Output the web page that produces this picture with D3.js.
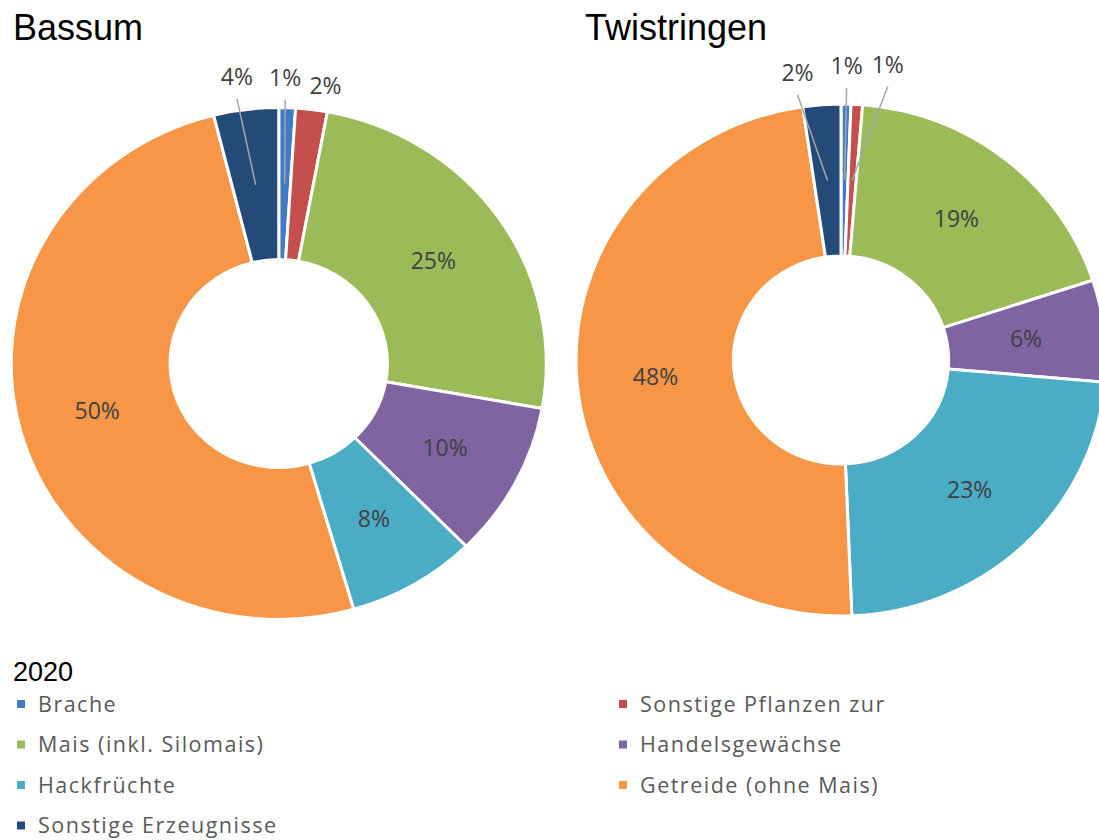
<!DOCTYPE html>
<html>
<head>
<meta charset="utf-8">
<script src="https://cdn.jsdelivr.net/npm/d3@7"></script>
<style>
  html, body { margin: 0; padding: 0; background: #fff; }
  svg { display: block; }
</style>
</head>
<body>
<div id="chart"></div>
<script>
// categories and values (share of area in %, 2020)
var categories = ["Brache", "Sonstige Pflanzen zur", "Mais (inkl. Silomais)", "Handelsgewächse",
                  "Hackfrüchte", "Getreide (ohne Mais)", "Sonstige Erzeugnisse"];
var bassumValues = [1.0, 1.9, 24.8, 9.8, 7.8, 50.4, 3.9];
var twistringenValues = [0.6, 0.7, 18.6, 6.4, 22.9, 48.2, 2.3];
var chartTitles = ["Bassum", "Twistringen"];
var legendTitle = "2020";
var colors = ["#3f7cc8", "#c44f4c", "#9bbb59", "#8064a2", "#4bacc6", "#f79646", "#244a7a"];

var width = 1099, height = 840;

var svg = d3.select("#chart").append("svg")
  .attr("width", width)
  .attr("height", height);

var color = d3.scaleOrdinal().domain(categories).range(colors);

// layout of the two doughnuts (the source picture is slightly stretched horizontally)
var pies = [
  { title: chartTitles[0], values: bassumValues, cx: 278.75, cy: 363.5, sx: 1.045, titleX: 13,
    // nudges for the small outside labels: [dx, dy, leader line]
    nudge: { 0: [-3, 1, true], 1: [10, 7, false], 6: [-5, -2, true] } },
  { title: chartTitles[1], values: twistringenValues, cx: 841, cy: 360, sx: 1.035, titleX: 585,
    nudge: { 0: [0, -7, true], 1: [29, -9, true], 6: [-22, -1, true] } }
];

var outerR = 256, innerR = 104, labelR = 287;

var pie = d3.pie().sort(null).value(function(d) { return d.value; });
var arc = d3.arc().innerRadius(innerR).outerRadius(outerR);

pies.forEach(function(p) {
  var data = categories.map(function(c, i) { return { name: c, value: p.values[i], idx: i }; });
  var arcs = pie(data);

  // title
  svg.append("text")
    .attr("x", p.titleX)
    .attr("y", 40)
    .style("font-family", "'Liberation Sans', Arial, sans-serif")
    .style("font-size", "36px")
    .style("fill", "#000")
    .text(p.title);

  var g = svg.append("g")
    .attr("transform", "translate(" + p.cx + "," + p.cy + ") scale(" + p.sx + ",1)");

  g.selectAll("path.slice")
    .data(arcs)
    .enter().append("path")
    .attr("class", "slice")
    .attr("d", arc)
    .attr("fill", function(d) { return color(d.data.name); })
    .attr("stroke", "#fff")
    .attr("stroke-width", 3)
    .attr("vector-effect", "non-scaling-stroke");

  // label positions (screen coords)
  function toScreen(pt) { return [p.cx + pt[0] * p.sx, p.cy + pt[1]]; }

  arcs.forEach(function(d) {
    var label = Math.round(d.data.value) + "%";
    var c = toScreen(arc.centroid(d));
    if (d.data.value >= 5) {
      svg.append("text")
        .attr("x", c[0])
        .attr("y", c[1])
        .attr("dy", "0.35em")
        .attr("text-anchor", "middle")
        .style("font-family", "'Open Sans', sans-serif")
        .style("font-size", "23px")
        .style("fill", "#404040")
        .text(label);
    } else {
      var mid = (d.startAngle + d.endAngle) / 2;
      var n = p.nudge[d.data.idx] || [0, 0, false];
      var lx = p.cx + Math.sin(mid) * labelR * p.sx + n[0];
      var ly = p.cy - Math.cos(mid) * labelR + n[1];
      if (n[2]) {
        svg.append("line")
          .attr("x1", lx).attr("y1", ly + 22)
          .attr("x2", c[0]).attr("y2", c[1])
          .attr("stroke", "#a6a6a6")
          .attr("stroke-width", 1.5);
      }
      svg.append("text")
        .attr("x", lx)
        .attr("y", ly)
        .attr("dy", "0.35em")
        .attr("text-anchor", "middle")
        .style("font-family", "'Open Sans', sans-serif")
        .style("font-size", "23px")
        .style("fill", "#404040")
        .text(label);
    }
  });
});

// legend
svg.append("text")
  .attr("x", 13)
  .attr("y", 681)
  .style("font-family", "'Liberation Sans', Arial, sans-serif")
  .style("font-size", "27px")
  .style("fill", "#000")
  .text(legendTitle);

var legend = svg.selectAll("g.legend")
  .data(categories)
  .enter().append("g")
  .attr("class", "legend")
  .attr("transform", function(d, i) {
    return "translate(" + (i % 2 === 0 ? 17 : 619) + "," + (704 + Math.floor(i / 2) * 40.5) + ")";
  });

legend.append("rect")
  .attr("x", 0)
  .attr("y", -4)
  .attr("width", 8)
  .attr("height", 8)
  .attr("fill", function(d) { return color(d); });

legend.append("text")
  .attr("x", 21)
  .attr("y", 0)
  .attr("dy", "0.35em")
  .style("font-family", "'Open Sans', sans-serif")
  .style("font-size", "21.5px")
  .style("letter-spacing", "1.5px")
  .style("fill", "#595959")
  .text(function(d) { return d; });
</script>
</body>
</html>
